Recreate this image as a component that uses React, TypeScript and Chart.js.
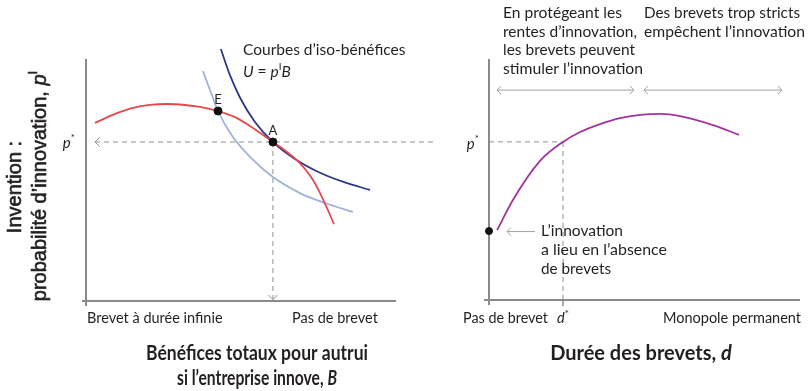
import { useEffect, useRef } from 'react';
import { Chart, registerables } from 'chart.js';

Chart.register(...registerables);

// ---------- Left panel (chart units: x 0..100 = axis length, y 0..100 = axis height) ----------
const redCurveX = [2.9, 9.4, 15.2, 20.6, 26.1, 31.9, 36.8, 42.6, 48.1, 52.9, 60.3, 64.8, 69.0, 72.6, 75.5, 80.0];
const redCurveY = [73.6, 77.3, 79.8, 81.0, 81.4, 81.0, 80.2, 78.5, 76.0, 72.3, 65.7, 61.6, 57.0, 51.2, 44.6, 31.8];
const isoHighX = [43.5, 46.5, 49.7, 54.5, 60.3, 67.4, 75.5, 83.5, 91.6];
const isoHighY = [104.1, 93.1, 84.0, 74.0, 65.7, 58.7, 53.0, 49.0, 45.9];
const isoLowX = [37.7, 40.0, 42.6, 47.4, 53.9, 60.3, 69.0, 77.1, 86.1];
const isoLowY = [95.0, 87.2, 78.5, 67.8, 58.3, 51.2, 44.6, 40.5, 36.8];
const pointLabels = ['E', 'A'];
const pointX = [42.6, 60.3];
const pointY = [78.5, 65.7];
const pStarLeft = 65.7;
const pStarLineX = [2.9, 113.2];
const leftTickLabels = ['Brevet à durée infinie', 'Pas de brevet'];

// ---------- Right panel ----------
const durationX = [2.6, 7.7, 16.4, 23.8, 29.3, 35.7, 42.1, 48.6, 55.0, 61.4, 72.0, 80.4];
const innovationY = [29.0, 41.5, 57.7, 65.6, 69.7, 73.0, 75.5, 76.8, 77.2, 76.3, 72.6, 68.5];
const noPatentY = 28.6;
const dStar = 23.8;
const pStarRight = 65.6;
const rangeArrowY = 87.1;
const rangeStimulate = [2.6, 46.6];
const rangeBlock = [49.8, 94.2];
const noteArrowX = [14.8, 5.8];
const rightTickLabels = ['Pas de brevet', 'Monopole permanent'];

const RED = '#e4484c';
const DARK_BLUE = '#2d388a';
const LIGHT_BLUE = '#9fb3da';
const PURPLE = '#a4349c';
const AXIS = '#8a8a8a';
const DASH = '#8f8f8f';
const TEXT = '#231f20';
const LIGHT_ARROW = '#a0a0a0';

const F = 'Lato, "Noto Sans", sans-serif';
const YF = '"Liberation Sans", Arial, sans-serif';

type Part = { t: string; f: string; dy?: number };

function drawParts(
  ctx: CanvasRenderingContext2D,
  parts: Part[],
  x: number,
  y: number,
  align: 'left' | 'center' | 'right' = 'left',
  maxW?: number,
  strokeW = 0
) {
  ctx.save();
  const widths = parts.map((p) => {
    ctx.font = p.f;
    return ctx.measureText(p.t).width;
  });
  const total = widths.reduce((a, b) => a + b, 0);
  const s = maxW && total > maxW ? maxW / total : 1;
  ctx.translate(x, y);
  ctx.scale(s, 1);
  let cx = align === 'left' ? 0 : align === 'center' ? -total / 2 : -total;
  ctx.textAlign = 'left';
  ctx.textBaseline = 'middle';
  ctx.fillStyle = TEXT;
  ctx.strokeStyle = TEXT;
  ctx.lineWidth = strokeW;
  parts.forEach((p, i) => {
    ctx.font = p.f;
    ctx.fillText(p.t, cx, p.dy || 0);
    if (strokeW > 0) ctx.strokeText(p.t, cx, p.dy || 0);
    cx += widths[i];
  });
  ctx.restore();
}

function line(ctx: CanvasRenderingContext2D, x1: number, y1: number, x2: number, y2: number) {
  ctx.beginPath();
  ctx.moveTo(x1, y1);
  ctx.lineTo(x2, y2);
  ctx.stroke();
}

function chevron(ctx: CanvasRenderingContext2D, x: number, y: number, dir: 'left' | 'right' | 'down', size: number) {
  ctx.beginPath();
  if (dir === 'left') {
    ctx.moveTo(x + size, y - size);
    ctx.lineTo(x, y);
    ctx.lineTo(x + size, y + size);
  } else if (dir === 'right') {
    ctx.moveTo(x - size, y - size);
    ctx.lineTo(x, y);
    ctx.lineTo(x - size, y + size);
  } else {
    ctx.moveTo(x - size, y - size);
    ctx.lineTo(x, y);
    ctx.lineTo(x + size, y - size);
  }
  ctx.stroke();
}

const zip = (xs: number[], ys: number[]) => xs.map((x, i) => ({ x, y: ys[i] }));

const leftPlugin = {
  id: 'leftDecor',
  beforeDatasetsDraw(chart: any) {
    const { ctx } = chart;
    const xs = chart.scales.x;
    const ys = chart.scales.y;
    const x0 = xs.getPixelForValue(0);
    const y0 = ys.getPixelForValue(0);
    ctx.save();
    ctx.strokeStyle = AXIS;
    ctx.lineWidth = 2;
    line(ctx, x0, ys.getPixelForValue(100), x0, y0 + 5);
    line(ctx, x0 - 4, y0, xs.getPixelForValue(100), y0);
    ctx.restore();
  },
  afterDatasetsDraw(chart: any) {
    const { ctx } = chart;
    const xs = chart.scales.x;
    const ys = chart.scales.y;
    const y0 = ys.getPixelForValue(0);
    ctx.save();
    ctx.strokeStyle = DASH;
    ctx.lineWidth = 1;
    chevron(ctx, xs.getPixelForValue(pStarLineX[0]), ys.getPixelForValue(pStarLeft), 'left', 4.5);
    chevron(ctx, xs.getPixelForValue(pointX[1]), y0 - 1.5, 'down', 4.5);
    ctx.restore();

    pointLabels.forEach((lab, i) => {
      drawParts(ctx, [{ t: lab, f: `13px ${F}` }], xs.getPixelForValue(pointX[i]), ys.getPixelForValue(pointY[i]) - 11, 'center');
    });

    drawParts(ctx, [{ t: 'Courbes d’iso-bénéfices', f: `15.5px ${F}` }], 243, 50, 'left', 163);
    drawParts(
      ctx,
      [
        { t: 'U', f: `italic 15.5px ${F}` },
        { t: ' = ', f: `15.5px ${F}` },
        { t: 'p', f: `italic 15.5px ${F}` },
        { t: 'I', f: `10px ${F}`, dy: -5 },
        { t: 'B', f: `italic 15.5px ${F}` },
      ],
      243,
      72
    );
    drawParts(
      ctx,
      [
        { t: 'p', f: `italic 15px ${F}` },
        { t: '*', f: `10px ${F}`, dy: -5 },
      ],
      75,
      143,
      'right'
    );

    drawParts(ctx, [{ t: leftTickLabels[0], f: `14.5px ${F}` }], 87, 318, 'left', 136);
    drawParts(ctx, [{ t: leftTickLabels[1], f: `14.5px ${F}` }], 292, 318, 'left', 86);

    drawParts(ctx, [{ t: 'Bénéfices totaux pour autrui', f: `bold 20px ${F}` }], 257, 354, 'center', 222);
    drawParts(
      ctx,
      [
        { t: 'si l’entreprise innove, ', f: `bold 20px ${F}` },
        { t: 'B', f: `bold italic 20px ${F}` },
      ],
      257,
      379,
      'center',
      160
    );

    // y-axis title
    ctx.save();
    ctx.translate(15, 187);
    ctx.rotate(-Math.PI / 2);
    drawParts(ctx, [{ t: 'Invention :', f: `20px ${YF}` }], 0, 0, 'center', undefined, 0.6);
    ctx.restore();
    ctx.save();
    ctx.translate(40, 186);
    ctx.rotate(-Math.PI / 2);
    drawParts(
      ctx,
      [
        { t: 'probabilité d’innovation, ', f: `20px ${YF}` },
        { t: 'p', f: `italic 20px ${YF}` },
        { t: 'I', f: `13px ${YF}`, dy: -7 },
      ],
      0,
      0,
      'center',
      undefined,
      0.6
    );
    ctx.restore();
  },
};

const rightPlugin = {
  id: 'rightDecor',
  beforeDatasetsDraw(chart: any) {
    const { ctx } = chart;
    const xs = chart.scales.x;
    const ys = chart.scales.y;
    const x0 = xs.getPixelForValue(0);
    const y0 = ys.getPixelForValue(0);
    ctx.save();
    ctx.strokeStyle = AXIS;
    ctx.lineWidth = 2;
    line(ctx, x0, ys.getPixelForValue(100), x0, y0 + 5);
    line(ctx, x0 - 5, y0, xs.getPixelForValue(100), y0);
    ctx.lineWidth = 1.5;
    line(ctx, xs.getPixelForValue(dStar), y0, xs.getPixelForValue(dStar), y0 + 6);
    ctx.restore();
  },
  afterDatasetsDraw(chart: any) {
    const { ctx } = chart;
    const xs = chart.scales.x;
    const ys = chart.scales.y;
    ctx.save();
    ctx.strokeStyle = LIGHT_ARROW;
    ctx.lineWidth = 1;
    const ya = ys.getPixelForValue(rangeArrowY);
    [rangeStimulate, rangeBlock].forEach((r) => {
      const a = xs.getPixelForValue(r[0]);
      const b = xs.getPixelForValue(r[1]);
      line(ctx, a, ya, b, ya);
      chevron(ctx, a, ya, 'left', 4);
      chevron(ctx, b, ya, 'right', 4);
    });
    const yn = ys.getPixelForValue(noPatentY) + 0.5;
    const na = xs.getPixelForValue(noteArrowX[0]);
    const nb = xs.getPixelForValue(noteArrowX[1]);
    line(ctx, na, yn, nb, yn);
    chevron(ctx, nb, yn, 'left', 4);
    ctx.restore();

    ctx.save();
    ctx.translate(-450, 0);
    drawParts(
      ctx,
      [
        { t: 'p', f: `italic 15px ${F}` },
        { t: '*', f: `10px ${F}`, dy: -5 },
      ],
      479,
      144,
      'right'
    );
    drawParts(ctx, [{ t: rightTickLabels[0], f: `14.5px ${F}` }], 463, 318, 'left', 85);
    drawParts(
      ctx,
      [
        { t: 'd', f: `italic 14.5px ${F}` },
        { t: '*', f: `10px ${F}`, dy: -4 },
      ],
      557,
      318,
      'left'
    );
    drawParts(ctx, [{ t: rightTickLabels[1], f: `14.5px ${F}` }], 663, 318, 'left', 139);

    const top1 = ['En protégeant les', 'rentes d’innovation,', 'les brevets peuvent', 'stimuler l’innovation'];
    const top1W = [119, 134, 132, 140];
    top1.forEach((t, i) => drawParts(ctx, [{ t, f: `16px ${F}` }], 503, 13 + i * 18.5, 'left', top1W[i]));
    const top2 = ['Des brevets trop stricts', 'empêchent l’innovation'];
    const top2W = [156, 161];
    top2.forEach((t, i) => drawParts(ctx, [{ t, f: `16px ${F}` }], 644, 13 + i * 18.5, 'left', top2W[i]));

    const note = ['L’innovation', 'a lieu en l’absence', 'de brevets'];
    const noteW = [82, 126, 70];
    note.forEach((t, i) => drawParts(ctx, [{ t, f: `16px ${F}` }], 541, 231 + i * 19, 'left', noteW[i]));

    drawParts(
      ctx,
      [
        { t: 'Durée des brevets, ', f: `bold 20px ${F}` },
        { t: 'd', f: `bold italic 20px ${F}` },
      ],
      641,
      354,
      'center',
      184
    );
    ctx.restore();
  },
};

export default function App() {
  const leftRef = useRef<HTMLCanvasElement | null>(null);
  const rightRef = useRef<HTMLCanvasElement | null>(null);

  useEffect(() => {
    if (!leftRef.current || !rightRef.current) return;
    const baseLine = { pointRadius: 0, fill: false, cubicInterpolationMode: 'monotone' as const, borderWidth: 1.8 };

    const left = new Chart(leftRef.current, {
      type: 'line',
      data: {
        datasets: [
          {
            data: zip(pointX, pointY),
            showLine: false,
            pointRadius: 4,
            pointBackgroundColor: '#111',
            pointBorderColor: '#111',
            clip: false,
          } as any,
          { ...baseLine, data: zip(redCurveX, redCurveY), borderColor: RED },
          { ...baseLine, data: zip(isoHighX, isoHighY), borderColor: DARK_BLUE },
          { ...baseLine, data: zip(isoLowX, isoLowY), borderColor: LIGHT_BLUE },
          {
            data: zip(pStarLineX, [pStarLeft, pStarLeft]),
            borderColor: DASH,
            borderWidth: 1,
            borderDash: [5, 4],
            pointRadius: 0,
          },
          {
            data: zip([pointX[1], pointX[1]], [pStarLeft, 0.6]),
            borderColor: DASH,
            borderWidth: 1,
            borderDash: [5, 4],
            pointRadius: 0,
          },
        ],
      },
      options: {
        animation: false,
        responsive: false,
        devicePixelRatio: 1,
        layout: { padding: { left: 86, right: 10.6, top: 46.9, bottom: 90 } },
        plugins: { legend: { display: false }, tooltip: { enabled: false } },
        events: [],
        scales: {
          x: { type: 'linear', min: 0, max: 114, display: false },
          y: { type: 'linear', min: 0, max: 105, display: false },
        },
      },
      plugins: [leftPlugin],
    });

    const right = new Chart(rightRef.current, {
      type: 'line',
      data: {
        datasets: [
          {
            data: [{ x: 0, y: noPatentY }],
            showLine: false,
            pointRadius: 3.5,
            pointBackgroundColor: '#111',
            pointBorderColor: '#111',
            clip: false,
          } as any,
          { ...baseLine, data: zip(durationX, innovationY), borderColor: PURPLE },
          {
            data: zip([0, dStar], [pStarRight, pStarRight]),
            borderColor: DASH,
            borderWidth: 1,
            borderDash: [5, 4],
            pointRadius: 0,
          },
          {
            data: zip([dStar, dStar], [pStarRight, 0]),
            borderColor: DASH,
            borderWidth: 1,
            borderDash: [5, 4],
            pointRadius: 0,
          },
        ],
      },
      options: {
        animation: false,
        responsive: false,
        devicePixelRatio: 1,
        layout: { padding: { left: 39, right: 9, top: 59, bottom: 91 } },
        plugins: { legend: { display: false }, tooltip: { enabled: false } },
        events: [],
        scales: {
          x: { type: 'linear', min: 0, max: 100, display: false },
          y: { type: 'linear', min: 0, max: 100, display: false },
        },
      },
      plugins: [rightPlugin],
    });

    return () => {
      left.destroy();
      right.destroy();
    };
  }, []);

  return (
    <div style={{ position: 'absolute', left: 0, top: 0, width: 809, height: 391, background: '#fff' }}>
      <canvas ref={leftRef} width={450} height={391} style={{ position: 'absolute', left: 0, top: 0, width: 450, height: 391 }} />
      <canvas ref={rightRef} width={359} height={391} style={{ position: 'absolute', left: 450, top: 0, width: 359, height: 391 }} />
    </div>
  );
}
